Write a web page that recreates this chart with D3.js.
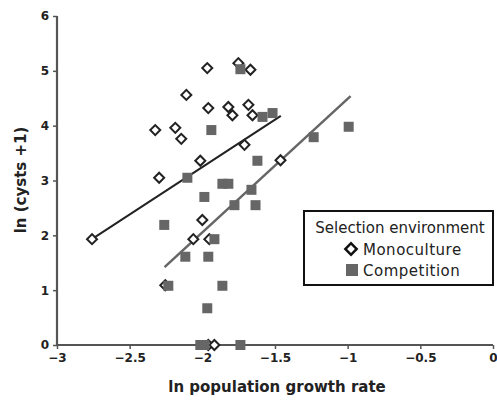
<!DOCTYPE html>
<html>
<head>
<meta charset="utf-8">
<script src="https://cdn.jsdelivr.net/npm/d3@7"></script>
<style>
	body { margin: 0; background: #fff; }
	svg { display: block; }
</style>
</head>
<body>
<svg id="svg" width="497" height="401"></svg>
<script>
// ln population growth rate (x), ln (cysts +1) (y)
const monoX = [-1.752, -1.966, -1.669, -2.110, -1.959, -1.821, -1.793, -1.683, -1.655, -2.324, -2.186, -2.145,
	-1.710, -2.014, -1.462, -2.297, -2.000, -2.062, -2.759, -1.952, -2.255, -1.959, -1.917];
const monoY = [5.14, 5.05, 5.02, 4.56, 4.32, 4.34, 4.19, 4.38, 4.19, 3.92, 3.96, 3.76,
	3.65, 3.36, 3.37, 3.05, 2.28, 1.93, 1.93, 1.93, 1.09, 0, 0];

const compX = [-1.738, -1.517, -1.586, -1.938, -2.103, -1.621, -1.862, -1.821, -1.986, -1.662, -1.779, -1.634,
	-2.262, -1.917, -2.117, -1.959, -2.234, -1.862, -1.966, -2.014, -1.986, -1.738, -1.234, -0.993];
const compY = [5.03, 4.23, 4.16, 3.92, 3.05, 3.36, 2.94, 2.94, 2.70, 2.83, 2.55, 2.55,
	2.19, 1.93, 1.61, 1.61, 1.08, 1.08, 0.67, 0, 0, 0, 3.79, 3.98];

// fitted lines: [x0, x1], [y0, y1]
const monoFitX = [-2.76, -1.46], monoFitY = [1.93, 4.18];
const compFitX = [-2.26, -0.98], compFitY = [1.42, 4.54];

const xTicks = [-3, -2.5, -2, -1.5, -1, -0.5, 0];
const yTicks = [0, 1, 2, 3, 4, 5, 6];
const legendLabels = ['Monoculture', 'Competition'];

const svg = d3.select('#svg');
const x = d3.scaleLinear().domain([-3, 0]).range([57, 493]);
const y = d3.scaleLinear().domain([0, 6]).range([345, 16]);
const axisColor = '#555';

// axes
let gx = svg.append('g').attr('transform', `translate(0,${y(0)})`)
	.call(d3.axisBottom(x).tickValues(xTicks).tickSize(4).tickPadding(4).tickFormat(d3.format('')));
let gy = svg.append('g').attr('transform', `translate(${x(-3)},0)`)
	.call(d3.axisLeft(y).tickValues(yTicks).tickSize(4).tickPadding(4).tickFormat(d3.format('d')));
[gx, gy].forEach(g => {
	g.select('.domain').attr('stroke', axisColor).attr('stroke-width', 2.2);
	g.selectAll('.tick line').attr('stroke', axisColor).attr('stroke-width', 1.5);
	g.selectAll('.tick text').attr('fill', '#222').style('font', 'bold 12px "DejaVu Sans", Verdana, sans-serif');
});
gy.select('.domain').attr('d', `M0,${y(6)}V${y(0)}`);
gx.select('.domain').attr('d', `M${x(-3)},0H${x(0)}`);

// axis titles
svg.append('text').attr('x', 277).attr('y', 392).attr('text-anchor', 'middle')
	.style('font', 'bold 15px "DejaVu Sans", Verdana, sans-serif').attr('fill', '#222')
	.text('ln population growth rate');
svg.append('text').attr('transform', 'translate(26,180) rotate(-90)').attr('text-anchor', 'middle')
	.style('font', 'bold 15px "DejaVu Sans", Verdana, sans-serif').attr('fill', '#222')
	.text('ln (cysts +1)');

// fit lines
const line = d3.line().x(d => x(d[0])).y(d => y(d[1]));
svg.append('path').attr('d', line(d3.zip(monoFitX, monoFitY)))
	.attr('stroke', '#222').attr('stroke-width', 2).attr('fill', 'none');
svg.append('path').attr('d', line(d3.zip(compFitX, compFitY)))
	.attr('stroke', '#666').attr('stroke-width', 2.5).attr('fill', 'none');

// points
const diamond = d3.symbol().type(d3.symbolSquare).size(50);
svg.append('g').selectAll('path')
	.data(d3.zip(monoX, monoY))
	.enter().append('path')
	.attr('d', diamond)
	.attr('transform', d => `translate(${x(d[0])},${y(d[1])}) rotate(45)`)
	.attr('fill', '#fff').attr('stroke', '#222').attr('stroke-width', 2);

svg.append('g').selectAll('rect')
	.data(d3.zip(compX, compY))
	.enter().append('rect')
	.attr('x', d => x(d[0]) - 5).attr('y', d => y(d[1]) - 5)
	.attr('width', 10).attr('height', 10)
	.attr('fill', '#666');

// legend
let legend = svg.append('g');
legend.append('rect').attr('x', 304).attr('y', 211).attr('width', 189).attr('height', 74)
	.attr('fill', '#fff').attr('stroke', '#111').attr('stroke-width', 2);
legend.append('text').attr('x', 400).attr('y', 233).attr('text-anchor', 'middle')
	.style('font', '15px "DejaVu Sans", Verdana, sans-serif').attr('fill', '#222')
	.text('Selection environment');
legend.append('path').attr('d', d3.symbol().type(d3.symbolSquare).size(64))
	.attr('transform', 'translate(351,249) rotate(45)')
	.attr('fill', '#fff').attr('stroke', '#111').attr('stroke-width', 2.5);
legend.append('rect').attr('x', 346).attr('y', 264).attr('width', 12).attr('height', 12).attr('fill', '#666');
legend.selectAll('.lbl').data(legendLabels).enter().append('text')
	.attr('class', 'lbl')
	.attr('x', 363).attr('y', (d, i) => 255 + i * 21)
	.style('font', '15px "DejaVu Sans", Verdana, sans-serif').style('letter-spacing', '0.5px').attr('fill', '#222')
	.text(d => d);
</script>
</body>
</html>
